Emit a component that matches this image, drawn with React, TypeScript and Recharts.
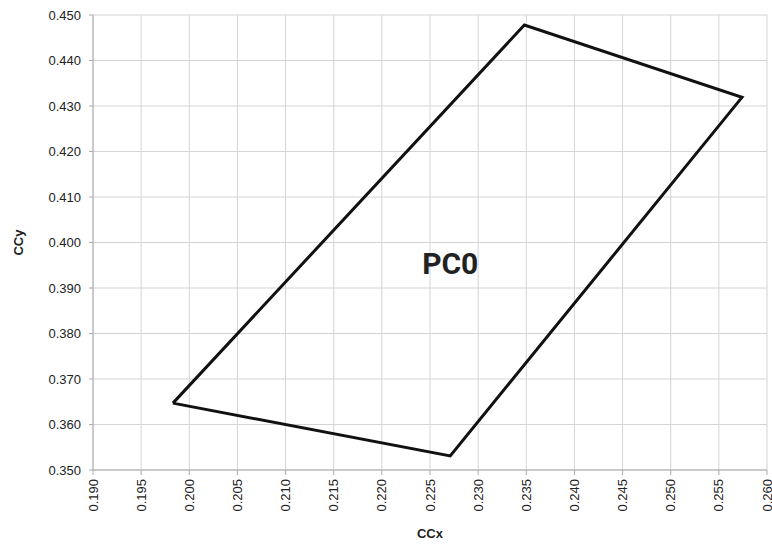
import {
  LineChart,
  Line,
  XAxis,
  YAxis,
  CartesianGrid,
  Label,
  ReferenceDot,
} from 'recharts';

// polygon vertices, closed back to the first one
const ccx = [0.1983, 0.2348, 0.2574, 0.2271, 0.1983];
const ccy = [0.3647, 0.4478, 0.4319, 0.3531, 0.3647];

const xTicks = [0.19, 0.195, 0.2, 0.205, 0.21, 0.215, 0.22, 0.225, 0.23, 0.235, 0.24, 0.245, 0.25, 0.255, 0.26];
const yTicks = [0.35, 0.36, 0.37, 0.38, 0.39, 0.4, 0.41, 0.42, 0.43, 0.44, 0.45];

const regionName = 'PC0';
const regionLabelAt = { x: 0.2271, y: 0.3955 };

const data = ccx.map((x, i) => ({ x, y: ccy[i] }));

const tickFont = { fontFamily: 'Liberation Sans, Arial, sans-serif', fontSize: 13, fill: '#222' };
const titleFont = { fontFamily: 'Liberation Sans, Arial, sans-serif', fontSize: 13, fontWeight: 700, fill: '#222' };

function XTick(props: any) {
  const { x, y, payload } = props;
  return (
    <text
      x={x}
      y={y + 2}
      transform={`rotate(-90, ${x}, ${y + 2})`}
      textAnchor="end"
      dy="0.35em"
      style={tickFont}
    >
      {Number(payload.value).toFixed(3)}
    </text>
  );
}

export default function App() {
  return (
    <div style={{ position: 'absolute', left: 0, top: 0, background: '#fff' }}>
      <LineChart width={772} height={544} data={data} margin={{ top: 15, right: 5, bottom: 0, left: 0 }}>
        <CartesianGrid stroke="#d4d4d4" strokeWidth={1} />
        <XAxis
          type="number"
          dataKey="x"
          domain={[0.19, 0.26]}
          ticks={xTicks}
          interval={0}
          height={74}
          stroke="#aaa"
          tickSize={5}
          tick={<XTick />}
        >
          <Label value="CCx" position="insideBottom" offset={6} style={titleFont} />
        </XAxis>
        <YAxis
          type="number"
          dataKey="y"
          domain={[0.35, 0.45]}
          ticks={yTicks}
          interval={0}
          width={93}
          stroke="#aaa"
          tickSize={4}
          tickMargin={8}
          tick={tickFont}
          tickFormatter={(v: number) => v.toFixed(3)}
        >
          <Label
            value="CCy"
            angle={-90}
            position="insideLeft"
            offset={18}
            style={{ ...titleFont, textAnchor: 'middle' }}
          />
        </YAxis>
        <Line
          type="linear"
          dataKey="y"
          stroke="#111"
          strokeWidth={3}
          strokeLinejoin="miter"
          dot={false}
          activeDot={false}
          isAnimationActive={false}
        />
        <ReferenceDot
          x={regionLabelAt.x}
          y={regionLabelAt.y}
          r={0}
          stroke="none"
          fill="none"
          label={{
            value: regionName,
            position: 'center',
            style: { fontFamily: 'Roboto, Arial, sans-serif', fontSize: 30, fontWeight: 700, fill: '#222' },
          }}
        />
      </LineChart>
    </div>
  );
}
